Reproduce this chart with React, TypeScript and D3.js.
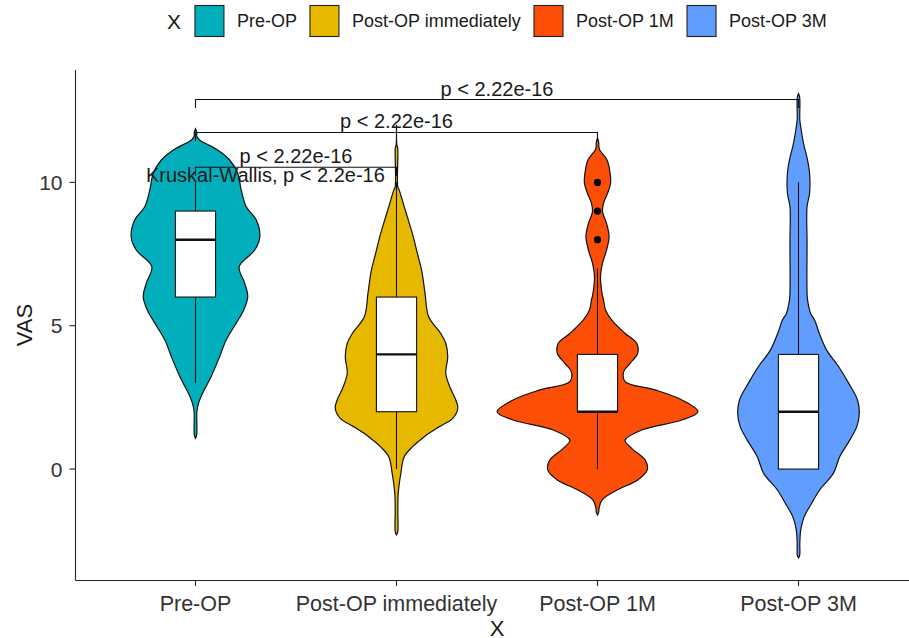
import React from "react";
import * as d3 from "d3";

// ---------- data ----------
const categories = ["Pre-OP", "Post-OP immediately", "Post-OP 1M", "Post-OP 3M"];
const fillColors = ["#00AFBB", "#E7B800", "#FC4E07", "#619CFF"];

// violin outlines: value (VAS) and relative half-width (100 = half a category step)
const preOpY = [11.87, 11.75, 11.6, 11.48, 11.13, 10.78, 10.32, 9.73, 9.15, 8.69, 8.1, 7.64, 7.06, 6.48, 6.01, 5.55, 5.09, 4.5, 3.92, 3.22, 2.64, 2.29, 2.0, 1.2, 1.07];
const preOpW = [0, 1.2, 1.4, 4, 22, 34, 42, 45.5, 50.5, 60.5, 64, 59, 43.5, 49, 52, 48, 40.5, 30.5, 24, 15.5, 7, 3, 1.4, 1.2, 0];

const immY = [12.0, 11.3, 11.2, 9.84, 9.73, 9.27, 8.69, 8.1, 7.53, 6.94, 6.13, 5.31, 4.73, 4.39, 3.92, 3.34, 2.87, 2.41, 2.12, 1.77, 1.48, 1.13, 0.78, 0.43, -0.15, -0.85, -1.43, -2.2, -2.3];
const immW = [0, 0.4, 1.2, 1.3, 2.7, 6.7, 11.7, 16.7, 20.7, 25, 28.4, 32, 44, 49, 51, 49, 53, 59, 61, 56, 42.7, 27.7, 16, 7.7, 4.3, 1.7, 1.3, 1.2, 0];

const m1Y = [11.55, 11.4, 11.27, 11.13, 10.78, 10.32, 9.97, 9.62, 9.27, 8.98, 8.57, 8.1, 7.64, 7.18, 6.71, 6.13, 5.9, 5.55, 5.2, 4.73, 4.39, 4.04, 3.69, 3.39, 3.05, 2.76, 2.41, 2.0, 1.71, 1.36, 1.01, 0.72, 0.31, -0.03, -0.38, -0.73, -1.08, -1.36, -1.5, -1.6];
const m1W = [0, 1.2, 1.3, 2.2, 9.5, 12.5, 13, 10, 6, 5, 9, 11.5, 9, 5, 3, 4.5, 6, 8, 14, 27.5, 39, 40, 32.5, 26, 27.5, 57.5, 84, 100, 84, 44, 27.5, 34, 47.5, 49.5, 40, 19.5, 4.5, 1.6, 1.2, 0];

const m3Y = [13.1, 12.95, 12.18, 11.94, 11.36, 10.78, 10.32, 9.62, 9.15, 7.88, 6.13, 5.9, 5.43, 5.2, 4.73, 4.15, 3.57, 2.99, 2.41, 1.94, 1.48, 1.01, 0.43, -0.15, -0.73, -1.2, -1.66, -2.13, -2.6, -3.0, -3.1];
const m3W = [0, 1.2, 1.3, 2.2, 5, 9, 11, 11, 8.5, 8.5, 8.5, 9, 12, 16, 20.7, 28, 40, 50, 58.7, 60.5, 58, 51, 41, 34.7, 21, 13, 5.7, 2.2, 1.3, 1.2, 0];

const violinValues = [preOpY, immY, m1Y, m3Y];
const violinWidths = [preOpW, immW, m1W, m3W];

// boxplot statistics
const whiskerLow = [3, 0, 0, 0];
const boxQ1 = [6, 2, 2, 0];
const boxMedian = [8, 4, 2, 2];
const boxQ3 = [9, 6, 4, 4];
const whiskerHigh = [10, 10, 7, 10];
const outlierGroup = ["Post-OP 1M", "Post-OP 1M", "Post-OP 1M"];
const outlierValue = [8, 9, 10];

// pairwise comparisons
const bracketFrom = ["Pre-OP", "Pre-OP", "Pre-OP"];
const bracketTo = ["Post-OP immediately", "Post-OP 1M", "Post-OP 3M"];
const bracketLevel = [10.53, 11.74, 12.89];
const bracketLabel = ["p < 2.22e-16", "p < 2.22e-16", "p < 2.22e-16"];
const kruskalLabel = "Kruskal-Wallis, p < 2.2e-16";
const kruskalValue = 10.02;

const yTicks = [0, 5, 10];
const legendTitle = "X";
const axisTitleX = "X";
const axisTitleY = "VAS";

// ---------- layout ----------
const W = 909;
const H = 638;
const FONT = "'Liberation Sans', Arial, sans-serif";
const panelLeft = 75.5;
const panelTop = 70;
const panelBottom = 580;

function measure(text: string, size: number): number {
  const c = document.createElement("canvas").getContext("2d");
  if (!c) return text.length * size * 0.55;
  c.font = `${size}px ${FONT}`;
  return c.measureText(text).width;
}

export default function App() {
  const x = d3.scalePoint<string>().domain(categories).range([195.5, 798.5]);
  const step = x.step();
  const y = d3.scaleLinear().domain([-3.87, 13.92]).range([panelBottom, panelTop]);
  const wScale = d3.scaleLinear().domain([0, 100]).range([0, step / 2]);
  const boxW = step * 0.2;
  const tip = 8.5;

  // legend layout
  const legTitleSize = 21;
  const legTextSize = 18;
  const keyW = 29;
  const keyH = 31;
  const keyTextGap = 13;
  const itemGap = 13;
  const titleGap = 14;
  const titleW = measure(legendTitle, legTitleSize);
  const textWs = categories.map((c) => measure(c, legTextSize));
  const totalW = titleW + titleGap + categories.length * (keyW + keyTextGap) + d3.sum(textWs) + (categories.length - 1) * itemGap;
  const legCenter = 497;
  let cursor = legCenter - totalW / 2;
  const legTitleX = cursor;
  cursor += titleW + titleGap;
  const legItems = categories.map((c, i) => {
    const kx = cursor;
    const tx = kx + keyW + keyTextGap;
    cursor = tx + textWs[i] + itemGap;
    return { c, kx, tx, fill: fillColors[i] };
  });
  const legY = 21;

  return (
    <svg width={W} height={H} style={{ position: "absolute", left: 0, top: 0, display: "block", background: "#fff" }} fontFamily={FONT}>
      {/* legend */}
      <text x={legTitleX} y={legY} fontSize={legTitleSize} dominantBaseline="central" fill="#1a1a1a">{legendTitle}</text>
      {legItems.map((it) => (
        <g key={it.c}>
          <rect x={it.kx} y={legY - keyH / 2} width={keyW} height={keyH} fill={it.fill} stroke="#222" strokeWidth={1.1} />
          <text x={it.tx} y={legY} fontSize={legTextSize} dominantBaseline="central" fill="#1a1a1a">{it.c}</text>
        </g>
      ))}

      {/* violins */}
      {categories.map((c, i) => {
        const cx = x(c) as number;
        const pts = violinValues[i].map((v, j) => [v, violinWidths[i][j]] as [number, number]);
        const area = d3
          .area<[number, number]>()
          .curve(d3.curveCatmullRom.alpha(0.5))
          .y((d) => y(d[0]))
          .x0((d) => cx - wScale(d[1]))
          .x1((d) => cx + wScale(d[1]));
        return <path key={c} d={area(pts) || ""} fill={fillColors[i]} stroke="#111" strokeWidth={1.2} />;
      })}

      {/* boxplots */}
      {categories.map((c, i) => {
        const cx = x(c) as number;
        return (
          <g key={c}>
            <line x1={cx} x2={cx} y1={y(boxQ3[i])} y2={y(whiskerHigh[i])} stroke="#111" strokeWidth={1.1} />
            <line x1={cx} x2={cx} y1={y(boxQ1[i])} y2={y(whiskerLow[i])} stroke="#111" strokeWidth={1.1} />
            <rect x={cx - boxW / 2} y={y(boxQ3[i])} width={boxW} height={y(boxQ1[i]) - y(boxQ3[i])} fill="#fff" stroke="#111" strokeWidth={1.1} />
            <line x1={cx - boxW / 2} x2={cx + boxW / 2} y1={y(boxMedian[i])} y2={y(boxMedian[i])} stroke="#111" strokeWidth={2.4} />
          </g>
        );
      })}
      {outlierValue.map((v, i) => (
        <circle key={i} cx={x(outlierGroup[i]) as number} cy={y(v)} r={3.6} fill="#000" />
      ))}

      {/* comparison brackets */}
      {bracketFrom.map((f, i) => {
        const x1 = x(f) as number;
        const x2 = x(bracketTo[i]) as number;
        const by = y(bracketLevel[i]);
        return (
          <g key={i}>
            <path d={`M${x1},${by + tip}L${x1},${by}L${x2},${by}L${x2},${by + tip}`} fill="none" stroke="#111" strokeWidth={1.1} />
            <text x={(x1 + x2) / 2} y={by - 4} fontSize={20} textAnchor="middle" fill="#1a1a1a">{bracketLabel[i]}</text>
          </g>
        );
      })}
      <text x={(x(categories[0]) as number) - 49.5} y={y(kruskalValue)} fontSize={20} textAnchor="start" fill="#1a1a1a">{kruskalLabel}</text>

      {/* axes */}
      <line x1={panelLeft} x2={panelLeft} y1={panelTop} y2={panelBottom + 0.5} stroke="#222" strokeWidth={1.1} />
      <line x1={panelLeft} x2={W} y1={panelBottom + 0.5} y2={panelBottom + 0.5} stroke="#222" strokeWidth={1.1} />
      {yTicks.map((t) => (
        <g key={t}>
          <line x1={panelLeft - 6} x2={panelLeft} y1={y(t)} y2={y(t)} stroke="#222" strokeWidth={1.1} />
          <text x={panelLeft - 13} y={y(t)} fontSize={21} textAnchor="end" dominantBaseline="central" fill="#333">{t}</text>
        </g>
      ))}
      {categories.map((c) => (
        <g key={c}>
          <line x1={x(c) as number} x2={x(c) as number} y1={panelBottom + 0.5} y2={panelBottom + 6} stroke="#222" strokeWidth={1.1} />
          <text x={x(c) as number} y={611} fontSize={21.5} textAnchor="middle" fill="#333">{c}</text>
        </g>
      ))}
      <text x={497} y={628} fontSize={22} textAnchor="middle" dominantBaseline="central" fill="#1a1a1a">{axisTitleX}</text>
      <text transform={`translate(24,${(panelTop + panelBottom) / 2}) rotate(-90)`} fontSize={22} textAnchor="middle" dominantBaseline="central" fill="#1a1a1a">{axisTitleY}</text>
    </svg>
  );
}
